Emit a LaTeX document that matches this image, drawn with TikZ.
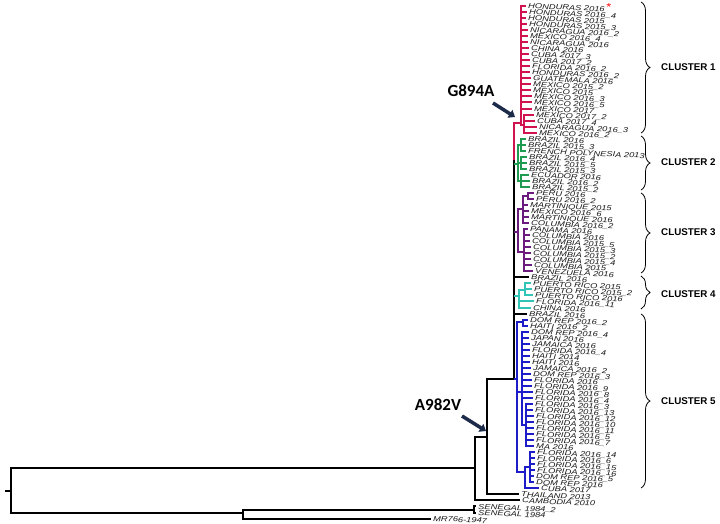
\documentclass[tikz,border=0pt]{standalone}
\usepackage{fontspec}
\setmainfont{Liberation Sans}
\newfontfamily\carl{Carlito}
\usetikzlibrary{arrows.meta,decorations.pathreplacing}
\definecolor{cred}{HTML}{D0134F}
\definecolor{cgreen}{HTML}{1E9B50}
\definecolor{cpurple}{HTML}{6B1A7E}
\definecolor{ccyan}{HTML}{33C4B8}
\definecolor{cblue}{HTML}{1C1CC8}
\definecolor{navy}{HTML}{1D2B4A}
\begin{document}
\begin{tikzpicture}[x=1pt,y=-1pt,
  tr/.style={line width=2pt},
  tiplab/.style={anchor=base west, inner sep=0pt, rotate=-2.5, yscale=0.78,
    font=\fontsize{9.3}{9}\selectfont\itshape, text=black!90},
  clbrace/.style={decorate, decoration={brace, amplitude=9pt}, line width=0.8pt},
  cllab/.style={anchor=west, inner sep=0pt, font=\fontsize{9.8}{10}\selectfont\bfseries},
  mut/.style={font=\carl\fontsize{17}{17}\selectfont\bfseries, inner sep=0pt},
  mutarrow/.style={navy, line width=3.5pt, -{Triangle[length=6pt,width=9pt]}}
]
\fill[white] (0,0) rectangle (720,524);
\useasboundingbox (0,0) rectangle (720,524);

% ---------- tips ----------
\coordinate (t0) at (526,6);
\node[tiplab] (l0) at (528,8.5) {HONDURAS 2016\,\textcolor{red}{\raisebox{1.5pt}{\upshape\fontsize{13}{13}\selectfont *}}};
\foreach \i/\tx/\lab in {
 1/527/HONDURAS 2016\_4, 2/526/HONDURAS 2015, 3/527/HONDURAS 2015\_3,
 4/528/NICARAGUA 2016\_2, 5/528/MEXICO 2016\_4, 6/528/NICARAGUA 2016,
 7/529/CHINA 2016, 8/529/CUBA 2017\_3, 9/530/CUBA 2017\_2,
 10/530/FLORIDA 2016\_2, 11/530/HONDURAS 2016\_2, 12/531/GUATEMALA 2016,
 13/531/MEXICO 2015\_2, 14/531/MEXICO 2015, 15/532/MEXICO 2016\_3,
 16/532/MEXICO 2016\_5, 17/532/MEXICO 2017, 18/534/MEXICO 2017\_2,
 19/535/CUBA 2017\_4, 20/537/NICARAGUA 2016\_3, 21/537/MEXICO 2016\_2,
 22/526/BRAZIL 2016, 23/526/BRAZIL 2015\_3, 24/526/FRENCH POLYNESIA 2013,
 25/527/BRAZIL 2016\_4, 26/527/BRAZIL 2015\_5, 27/527/BRAZIL 2015\_3,
 28/529/ECUADOR 2016, 29/530/BRAZIL 2016\_2, 30/530/BRAZIL 2015\_2,
 31/534/PERU 2016, 32/534/PERU 2016\_2, 33/528/MARTINIQUE 2015,
 34/529/MEXICO 2016\_6, 35/529/MARTINIQUE 2016, 36/529/COLUMBIA 2016\_2,
 37/528/PANAMA 2016, 38/530/COLUMBIA 2016, 39/530/COLUMBIA 2015\_5,
 40/531/COLUMBIA 2015\_3, 41/531/COLUMBIA 2015\_2, 42/531/COLUMBIA 2015\_4,
 43/532/COLUMBIA 2015, 44/533/VENEZUELA 2016,
 45/529/BRAZIL 2016,
 46/531/PUERTO RICO 2015, 47/532/PUERTO RICO 2015\_2, 48/533/PUERTO RICO 2016,
 49/534/FLORIDA 2016\_11, 50/531/CHINA 2016,
 51/527/BRAZIL 2016,
 52/528/DOM REP 2016\_2, 53/528/HAITI 2016\_2, 54/529/DOM REP 2016\_4,
 55/529/JAPAN 2016, 56/530/JAMAICA 2016, 57/530/FLORIDA 2016\_4,
 58/530/HAITI 2014, 59/530/HAITI 2016, 60/531/JAMAICA 2016\_2,
 61/531/DOM REP 2016\_3, 62/532/FLORIDA 2016, 63/532/FLORIDA 2016\_9,
 64/533/FLORIDA 2016\_8, 65/533/FLORIDA 2016\_4, 66/533/FLORIDA 2016\_3,
 67/533/FLORIDA 2016\_13, 68/534/FLORIDA 2016\_12, 69/534/FLORIDA 2016\_10,
 70/534/FLORIDA 2016\_11, 71/534/FLORIDA 2016\_5, 72/534/FLORIDA 2016\_7,
 73/534/MA 2016, 74/535/FLORIDA 2016\_14, 75/535/FLORIDA 2016\_6,
 76/535/FLORIDA 2016\_15, 77/535/FLORIDA 2016\_16, 78/534/DOM REP 2016\_5,
 79/534/DOM REP 2016, 80/539/CUBA 2017,
 81/519/THAILAND 2013, 82/520/CAMBODIA 2010,
 83/476/SENEGAL 1984\_2, 84/476/SENEGAL 1984, 85/431/MR766-1947}{
  \pgfmathsetmacro\yy{6+6.03*\i}
  \coordinate (t\i) at (\tx,\yy);
  \node[tiplab] (l\i) at (\tx+2,\yy+2.5) {\lab};
}

% ---------- internal nodes ----------
\coordinate (R0s) at (5,490.5);
\coordinate (R0) at (11,490.5);
\coordinate (A) at (475,468);
\coordinate (M) at (243,513);
\coordinate (SN) at (474,509.5);
\coordinate (B) at (487,437);
\coordinate (D) at (514,379);
\coordinate (BK) at (514,160);
\coordinate (RR) at (514,123);
\coordinate (R1) at (521,123);
\coordinate (R2) at (524,125);
\coordinate (GG) at (514,164);
\coordinate (G1) at (518,164);
\coordinate (G2) at (521,145);
\coordinate (G3) at (521,163);
\coordinate (G4) at (521,181);
\coordinate (PP) at (514,232);
\coordinate (P1) at (518,232);
\coordinate (PU) at (523,209);
\coordinate (PK) at (528,196);
\coordinate (PL) at (524,252);
\coordinate (CC) at (514,296);
\coordinate (C1) at (519,296);
\coordinate (CP) at (525,290);
\coordinate (B1) at (517,379);
\coordinate (BA) at (523,322);
\coordinate (BB) at (522,392);
\coordinate (BD) at (526,425);
\coordinate (BC) at (525,472);
\coordinate (BE) at (530,467);

% ---------- outgroup / backbone ----------
\draw[tr] (R0s) -- (R0);
\draw[tr] (R0) |- (A);
\draw[tr] (R0) |- (M);
\draw[tr] (M) |- (SN);
\draw[tr] (M) |- (t85);
\draw[tr] (SN) |- (t83);
\draw[tr] (SN) |- (t84);
\draw[tr] (A) |- (B);
\draw[tr] (A) |- (t82);
\draw[tr] (B) |- (D);
\draw[tr] (B) |- (t81);
\draw[tr] (D) -- (BK);
\draw[tr] (D |- t45) -- (t45);
\draw[tr] (D |- t51) -- (t51);

% ---------- cluster 1 ----------
\draw[tr,cred] (BK) -- (RR) -- (R1);
\draw[tr,cred] (R1) |- (R2);
\foreach \i in {0,...,17} \draw[tr,cred] (R1) |- (t\i);
\foreach \i in {18,...,21} \draw[tr,cred] (R2) |- (t\i);

% ---------- cluster 2 ----------
\draw[tr,cgreen] (GG) -- (G1);
\draw[tr,cgreen] (G1) |- (G2);
\draw[tr,cgreen] (G1) |- (G3);
\draw[tr,cgreen] (G1) |- (G4);
\foreach \i in {22,23,24} \draw[tr,cgreen] (G2) |- (t\i);
\foreach \i in {25,26,27} \draw[tr,cgreen] (G3) |- (t\i);
\foreach \i in {28,29,30} \draw[tr,cgreen] (G4) |- (t\i);

% ---------- cluster 3 ----------
\draw[tr,cpurple] (PP) -- (P1);
\draw[tr,cpurple] (P1) |- (PU);
\draw[tr,cpurple] (P1) |- (PL);
\draw[tr,cpurple] (PU) |- (PK);
\foreach \i in {31,32} \draw[tr,cpurple] (PK) |- (t\i);
\foreach \i in {33,...,36} \draw[tr,cpurple] (PU) |- (t\i);
\foreach \i in {37,...,44} \draw[tr,cpurple] (PL) |- (t\i);

% ---------- cluster 4 ----------
\draw[tr,ccyan] (CC) -- (C1);
\draw[tr,ccyan] (C1) |- (CP);
\foreach \i in {46,47,48} \draw[tr,ccyan] (CP) |- (t\i);
\foreach \i in {49,50} \draw[tr,ccyan] (C1) |- (t\i);

% ---------- cluster 5 ----------
\draw[tr,cblue] (D) -- (B1);
\draw[tr,cblue] (B1) |- (BA);
\draw[tr,cblue] (B1) |- (BB);
\draw[tr,cblue] (B1) |- (BC);
\draw[tr,cblue] (BB) |- (BD);
\draw[tr,cblue] (BC) |- (BE);
\foreach \i in {52,53} \draw[tr,cblue] (BA) |- (t\i);
\foreach \i in {54,...,65} \draw[tr,cblue] (BB) |- (t\i);
\foreach \i in {66,...,73} \draw[tr,cblue] (BD) |- (t\i);
\foreach \i in {74,...,79} \draw[tr,cblue] (BE) |- (t\i);
\draw[tr,cblue] (BC) |- (t80);

% ---------- cluster braces ----------
\draw[clbrace] (641,2) -- (641,133);
\draw[clbrace] (641,136) -- (641,190);
\draw[clbrace] (641,193) -- (641,273);
\draw[clbrace] (641,276) -- (641,309);
\draw[clbrace] (641,314) -- (641,488);
\node[cllab] (cl1) at (661,67) {CLUSTER 1};
\node[cllab] (cl2) at (661,162) {CLUSTER 2};
\node[cllab] (cl3) at (661,232) {CLUSTER 3};
\node[cllab] (cl4) at (661,294) {CLUSTER 4};
\node[cllab] (cl5) at (661,401) {CLUSTER 5};

% ---------- mutations ----------
\node[mut] (g894) at (471,91) {G894A};
\node[mut] (a982) at (438,405) {A982V};
\coordinate (ga1) at (493,103);
\coordinate (ga2) at (515,117);
\coordinate (aa1) at (462,416);
\coordinate (aa2) at (486,431);
\draw[mutarrow] (ga1) -- (ga2);
\draw[mutarrow] (aa1) -- (aa2);
\end{tikzpicture}
\end{document}
